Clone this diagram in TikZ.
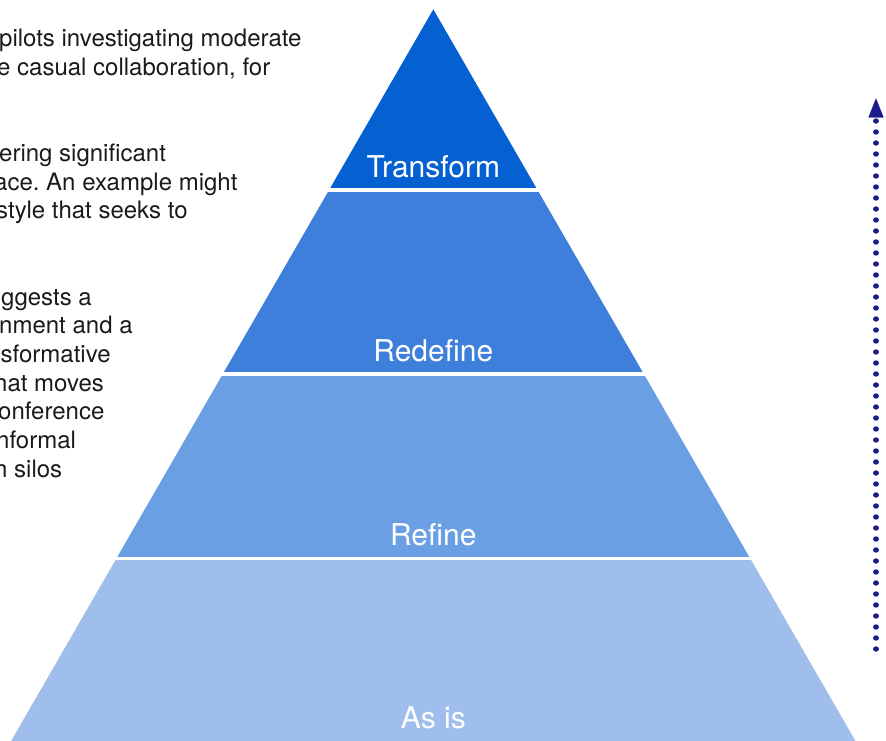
\documentclass[tikz,border=0pt]{standalone}
\usepackage{fontspec}
\setmainfont{TeX Gyre Heros}
\usetikzlibrary{arrows.meta}
\definecolor{ltransform}{HTML}{0560D2}
\definecolor{lredefine}{HTML}{3E7FDB}
\definecolor{lrefine}{HTML}{6B9FE3}
\definecolor{lasis}{HTML}{9FBEEC}
\definecolor{dotblue}{HTML}{1B1B8C}
\definecolor{bodytext}{HTML}{1A1A1A}
\frenchspacing
\begin{document}
\begin{tikzpicture}[x=1pt,y=-1pt,
  layerlabel/.style={anchor=base,inner sep=0pt,text=white,font=\fontsize{30}{36}\selectfont},
  bodyline/.style={anchor=base west,inner sep=0pt,text=bodytext,font=\fontsize{24}{28.7}\selectfont},
  gapline/.style={white,line width=3.4pt},
  dotarrow/.style={dotblue,line width=5.4pt,line cap=round,dash pattern=on 0.01pt off 10.99pt,
    -{Triangle[length=19pt,width=15pt,line width=0.1pt]}}]
\useasboundingbox (0,0) rectangle (886,740);
% pyramid layers
\fill[ltransform] (433.3,9.3) -- (537.5,190) -- (329.1,190) -- cycle;
\fill[lredefine] (329.1,190) -- (537.5,190) -- (643.8,374) -- (222.8,374) -- cycle;
\fill[lrefine] (222.8,374) -- (643.8,374) -- (750.1,558.3) -- (116.5,558.3) -- cycle;
\fill[lasis] (116.5,558.3) -- (750.1,558.3) -- (856.1,742) -- (10.5,742) -- cycle;
\draw[gapline] (324,190) -- (543,190);
\draw[gapline] (218,374) -- (649,374);
\draw[gapline] (111,558.3) -- (756,558.3);
% layer labels
\node[layerlabel] (ltr) at (433.3,177) {Transform};
\node[layerlabel] (lrd) at (433.3,361.7) {Redefine};
\node[layerlabel] (lrf) at (433.3,545.5) {Refine};
\node[layerlabel] (las) at (433.3,728.3) {As is};
% clipped text on the left
\node[bodyline] (t1) at (-1,46.7) {pilots investigating moderate};
\node[bodyline] (t2) at (-3,75.4) {e casual collaboration, for};
\node[bodyline] (t5) at (-1,161.5) {ering significant};
\node[bodyline] (t6) at (-6,190.2) {ace. An example might};
\node[bodyline] (t7) at (-4,218.9) {style that seeks to};
\node[bodyline] (t10) at (1,305.0) {ggests a};
\node[bodyline] (t11) at (-1,333.6) {nment and a};
\node[bodyline] (t12) at (0.5,362.3) {sformative};
\node[bodyline] (t13) at (-6,391.0) {hat moves};
\node[bodyline] (t14) at (-2,419.7) {onference};
\node[bodyline] (t15) at (-4,448.4) {nformal};
\node[bodyline] (t16) at (-6,477.1) {n silos};
% dotted arrow
\coordinate (abot) at (876,649);
\coordinate (atop) at (876,98.3);
\draw[dotarrow] (abot) -- (atop);
\end{tikzpicture}
\end{document}
